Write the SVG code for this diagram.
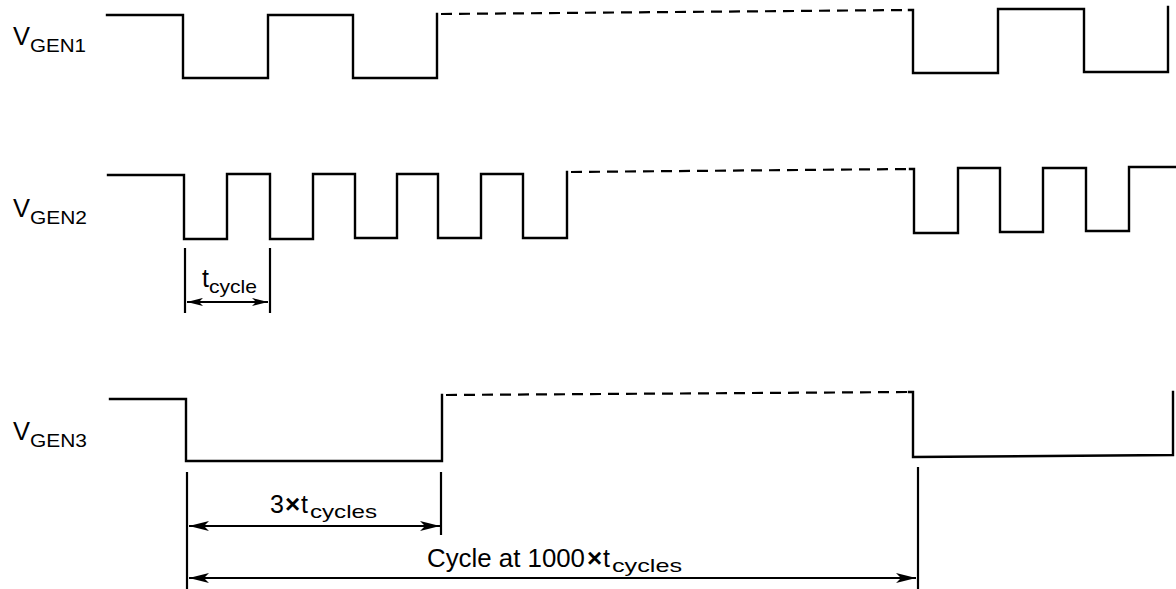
<svg xmlns="http://www.w3.org/2000/svg" width="1176" height="589" viewBox="0 0 1176 589">
<style>
.wave{fill:none;stroke:#000;stroke-width:2.4;stroke-linejoin:miter;stroke-linecap:square}
.dash{fill:none;stroke:#000;stroke-width:2.2;stroke-dasharray:11 7}
.tick{stroke:#000;stroke-width:2.2;fill:none}
.dim{stroke:#000;stroke-width:2;fill:none}
.lbl{font-family:"Liberation Sans",Arial,sans-serif;fill:#000;font-size:25px}
.sub{font-family:"Liberation Sans",Arial,sans-serif;fill:#000;font-size:19px}
.x{font-family:"Liberation Sans",Arial,sans-serif;fill:#000;font-size:26px;font-weight:bold}
</style>
<defs>
<marker id="ah" viewBox="0 0 20 11" refX="20" refY="5.5" markerWidth="20" markerHeight="11" markerUnits="userSpaceOnUse" orient="auto-start-reverse">
<path d="M0,0.5 L20,5.5 L0,10.5 L5,5.5 Z" fill="#000"/>
</marker>
<marker id="ahs" viewBox="0 0 16 9" refX="16" refY="4.5" markerWidth="16" markerHeight="9" markerUnits="userSpaceOnUse" orient="auto-start-reverse">
<path d="M0,0.4 L16,4.5 L0,8.6 L4,4.5 Z" fill="#000"/>
</marker>
</defs>
<rect width="1176" height="589" fill="#fff"/>
<g id="vgen1">
<text class="lbl" x="13" y="45" textLength="17" lengthAdjust="spacingAndGlyphs">V</text>
<text class="sub" x="30" y="52" textLength="56" lengthAdjust="spacingAndGlyphs">GEN1</text>
<path class="wave" d="M107,15 H183 V78 H268 V15 H353 V78 H437 V14"/>
<path class="dash" d="M441,14 L909,10"/>
<path class="wave" d="M909,10 H913 V73 H998 V9 H1084 V72 H1168 V7"/>
</g>
<g id="vgen2">
<text class="lbl" x="13" y="217" textLength="17" lengthAdjust="spacingAndGlyphs">V</text>
<text class="sub" x="30" y="224" textLength="57" lengthAdjust="spacingAndGlyphs">GEN2</text>
<path class="wave" d="M108,175 H184 V239 H227 V174 H270 V239 H313 V174 H355 V238 H397 V174 H438 V238 H481 V174 H523 V238 H567 V172"/>
<path class="dash" d="M571,172 L910,169"/>
<path class="wave" d="M910,169 H914 V233 H958 V168 H1000 V232 H1043 V168 H1086 V231 H1129 V167 H1176"/>
</g>
<g id="vgen3">
<text class="lbl" x="13" y="440" textLength="17" lengthAdjust="spacingAndGlyphs">V</text>
<text class="sub" x="30" y="447" textLength="57" lengthAdjust="spacingAndGlyphs">GEN3</text>
<path class="wave" d="M110,399 H186 V461 H442 V395"/>
<path class="dash" d="M446,395 L909,392"/>
<path class="wave" d="M909,392 H913 V457 L1173,455 V392"/>
</g>
<g id="connectors">
<line class="tick" x1="185" y1="248" x2="185" y2="313"/>
<line class="tick" x1="270" y1="248" x2="270" y2="313"/>
<line class="dim" x1="187" y1="302" x2="268" y2="302" marker-start="url(#ahs)" marker-end="url(#ahs)"/>
<line class="tick" x1="187" y1="472" x2="187" y2="589"/>
<line class="tick" x1="441" y1="472" x2="441" y2="535"/>
<line class="tick" x1="918" y1="467" x2="918" y2="589"/>
<line class="dim" x1="189" y1="526" x2="440" y2="526" marker-start="url(#ah)" marker-end="url(#ah)"/>
<line class="dim" x1="189" y1="578" x2="916" y2="578" marker-start="url(#ah)" marker-end="url(#ah)"/>
</g>
<g id="labels">
<text class="lbl" x="202" y="287" font-size="22">t</text>
<text class="sub" x="209" y="293" textLength="48" lengthAdjust="spacingAndGlyphs">cycle</text>
<text class="lbl" x="270" y="513">3</text>
<text class="x" x="285" y="513">×</text>
<text class="lbl" x="301" y="513">t</text>
<text class="sub" x="310" y="518" textLength="67" lengthAdjust="spacingAndGlyphs">cycles</text>
<text class="lbl" x="427" y="567" textLength="158" lengthAdjust="spacingAndGlyphs">Cycle at 1000</text>
<text class="x" x="587" y="567">×</text>
<text class="lbl" x="603" y="567">t</text>
<text class="sub" x="612" y="572" textLength="70" lengthAdjust="spacingAndGlyphs">cycles</text>
</g>
</svg>
